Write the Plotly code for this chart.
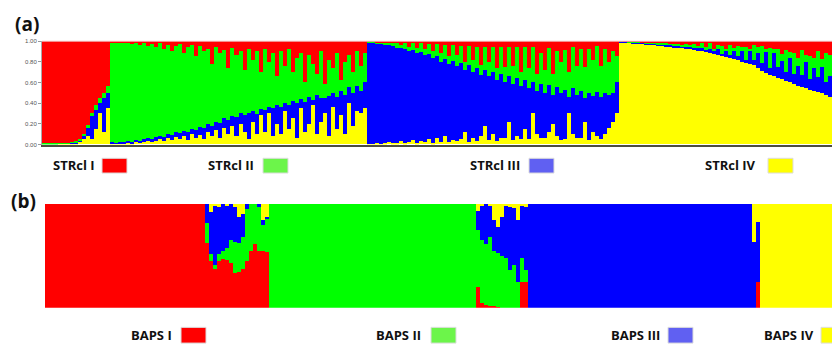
import plotly.graph_objects as go

# ---------------- Panel (a): STRUCTURE membership (197 individuals) ----------------
# Cluster I (17), Cluster II (64), Cluster III (63), Cluster IV (53)
a_yellow = [
    0, 0, 0, 0, .003, .005, .005, .01, .01, .02, .05, .08, .05, .15, .30, .12, .35,
    .01, .005, .01, .01, .01, .01, .02, .02, .02, .03,
    .02, .03, .05, .03, .06, .04, .07, .05, .08, .04,
    .10, .06, .09, .05, .12, .08, .14, .06, .16, .10,
    .18, .08, .20, .12, .05, .22, .10, .28, .12, .30,
    .08, .20, .10, .32, .15, .25, .06, .35, .12, .20,
    .38, .10, .22, .30, .08, .36, .15, .28, .10, .40,
    .18, .32, .30, .35,
    .005, .005, .01, .005, .01, .02, .01, .01, .03, .01,
    .02, .04, .01, .03, .02, .05, .01, .06, .02, .08,
    .02, .04, .03, .05, .12, .02, .06, .03, .08, .18,
    .04, .10, .03, .06, .06, .22, .04, .08, .05, .15,
    .05, .30, .10, .06, .06, .12, .20, .08, .04, .05,
    .30, .10, .06, .06, .22, .04, .12, .08, .05, .10,
    .16, .22, .30,
    .99, .99, .985, .98, .98, .975, .97, .97, .965, .96,
    .955, .95, .945, .94, .935, .93, .925, .92, .91, .905,
    .90, .89, .88, .875, .865, .855, .845, .835, .825, .815,
    .80, .79, .78, .77, .74, .71, .69, .675, .66, .645,
    .63, .615, .60, .58, .56, .55, .54, .53, .52, .51,
    .50, .48, .46,
]
a_blue = [
    0, 0, 0, 0, .002, .005, .005, .01, .01, .02, .03, .08, .22, .18, .10, .33, .15,
    .01, .005, .01, .01, .02, .01, .02, .01, .03, .03,
    .03, .04, .03, .04, .04, .05, .05, .06, .05, .08,
    .05, .08, .08, .11, .08, .10, .08, .15, .09, .13,
    .09, .18, .10, .16, .25, .10, .19, .06, .21, .06,
    .27, .18, .26, .08, .23, .17, .34, .09, .29, .26,
    .05, .38, .23, .15, .39, .14, .31, .24, .38, .15,
    .32, .24, .22, .25,
    .985, .975, .97, .965, .95, .94, .94, .92, .90, .91,
    .88, .87, .87, .86, .84, .82, .83, .79, .78, .75,
    .76, .77, .73, .74, .60, .75, .64, .71, .59, .54,
    .62, .60, .59, .62, .54, .44, .54, .56, .51, .47,
    .49, .30, .42, .52, .44, .45, .28, .47, .46, .48,
    .16, .44, .42, .46, .23, .46, .35, .43, .41, .40,
    .32, .28, .30,
    .005, .005, .005, .01, .005, .01, .01, .01, .01, .01,
    .015, .01, .02, .015, .02, .02, .02, .03, .02, .03,
    .03, .02, .04, .03, .06, .02, .06, .03, .08, .04,
    .10, .03, .12, .05, .14, .08, .20, .06, .22, .10,
    .18, .08, .24, .10, .20, .12, .26, .10, .22, .14,
    .25, .12, .20,
]
a_green = [
    .01, .01, .01, .01, .005, .005, .005, .005, .01, .01, .02, .03, .03, .05, .05, .05, .06,
    .97, .98, .96, .97, .95, .95, .94, .93, .93, .89,
    .92, .87, .90, .85, .86, .81, .83, .86, .75, .82,
    .81, .71, .78, .74, .72, .60, .72, .67, .66, .51,
    .66, .60, .60, .44, .62, .50, .61, .36, .59, .44,
    .53, .28, .54, .36, .54, .28, .44, .44, .19, .40,
    .35, .20, .45, .13, .35, .24, .42, .10, .32, .31,
    .20, .34, .24, .28,
    .01, .02, .01, .02, .03, .02, .04, .05, .03, .06,
    .04, .07, .05, .09, .06, .10, .06, .12, .08, .13,
    .07, .15, .10, .16, .08, .18, .12, .20, .10, .22,
    .14, .24, .12, .26, .15, .28, .18, .30, .14, .32,
    .20, .34, .16, .30, .22, .36, .20, .35, .30, .38,
    .24, .40, .28, .40, .30, .42, .35, .44, .30, .42,
    .32, .40, .25,
    .005, 0, .005, .005, .01, .005, .01, .005, .01, .01,
    .01, .02, .01, .015, .02, .01, .03, .01, .04, .015,
    .05, .03, .06, .02, .04, .08, .02, .10, .03, .10,
    .04, .12, .02, .14, .06, .16, .03, .20, .04, .18,
    .06, .22, .05, .20, .08, .24, .06, .22, .10, .25,
    .08, .28, .20,
]
a_red = [
    .99, .99, .99, .99, .99, .985, .985, .975, .97, .95, .90, .81, .70, .62, .55, .50, .44,
    .01, .01, .02, .01, .02, .03, .02, .04, .02, .05,
    .03, .06, .02, .08, .04, .10, .05, .03, .12, .06,
    .04, .15, .05, .10, .08, .22, .06, .12, .09, .26,
    .07, .14, .10, .28, .08, .18, .10, .30, .08, .20,
    .12, .34, .10, .24, .08, .30, .16, .12, .40, .14,
    .22, .32, .10, .42, .18, .26, .12, .38, .20, .14,
    .30, .10, .24, .12,
    0, 0, .01, .01, .01, .02, .01, .02, .04, .02,
    .06, .02, .07, .02, .08, .03, .10, .03, .12, .04,
    .15, .04, .14, .05, .20, .05, .18, .06, .23, .06,
    .20, .06, .26, .06, .25, .06, .24, .06, .30, .06,
    .26, .06, .32, .12, .28, .07, .32, .10, .20, .09,
    .30, .06, .24, .08, .25, .08, .18, .05, .24, .08,
    .20, .10, .15,
    0, .005, .005, .005, .005, .01, .01, .015, .015, .02,
    .02, .02, .025, .03, .025, .04, .025, .04, .03, .05,
    .02, .06, .02, .075, .035, .045, .075, .035, .065, .045,
    .06, .06, .08, .04, .06, .05, .08, .065, .08, .075,
    .13, .085, .11, .12, .16, .09, .14, .15, .16, .10,
    .17, .12, .14,
]

# ---------------- Panel (b): BAPS membership (197 individuals) ----------------
b_red = ([1.0] * 40
         + [.63, .45, .38, .45, .47, .46, .43, .34, .35, .38, .45, .55, .62, .55, .55, .54]
         + [0.0] * 52
         + [.20, .05, .03, .02, .02, .01, 0, 0, 0, 0, 0, .25, .25]
         + [0.0] * 56 + [0, .25] + [0.0] * 18)
b_green = ([0.0] * 40
           + [.19, .07, .03, .07, .08, .12, .22, .30, .28, .30, .50, .45, .38, .42, .25, .32]
           + [1.0] * 52
           + [.55, .60, .59, .66, .53, .52, .50, .48, .37, .41, .25, .23, .12]
           + [0.0] * 56 + [0, 0] + [0.0] * 18)
b_blue = ([0.0] * 40
          + [.18, .40, .57, .45, .45, .40, .35, .33, .25, .22, .05, 0, 0, .03, .05, .02]
          + [0.0] * 52
          + [.18, .33, .38, .30, .30, .25, .38, .50, .60, .55, .60, .50, .60]
          + [1.0] * 56 + [.64, .58] + [0.0] * 18)
b_yellow = ([0.0] * 40
            + [0, .08, .02, .03, 0, .02, 0, .03, .12, .10, 0, 0, 0, 0, .15, .12]
            + [0.0] * 52
            + [.07, .02, 0, .02, .15, .22, .12, .02, .03, .04, .15, .02, .03]
            + [0.0] * 56 + [.36, .17] + [1.0] * 18)

y_tick_vals = [0, 0.2, 0.4, 0.6, 0.8, 1.0]
y_tick_text = ["0.00", "0.20", "0.40", "0.60", "0.80", "1.00"]

legend_a = ["STRcl I", "STRcl II", "STRcl III", "STRcl IV"]
legend_b = ["BAPS I", "BAPS II", "BAPS III", "BAPS IV"]

W, H = 832, 351
def PX(x):
    return x / W
def PY(y):
    return 1 - y / H

COL = {"red": "#ff0000", "green": "#00ff00", "blue": "#0000ff", "yellow": "#ffff00"}

fig = go.Figure()
for name, vals in [("yellow", a_yellow), ("blue", a_blue), ("green", a_green), ("red", a_red)]:
    fig.add_trace(go.Bar(x=list(range(len(vals))), y=vals, xaxis="x", yaxis="y",
                         marker=dict(color=COL[name], line=dict(width=0)),
                         showlegend=False, hoverinfo="skip"))
for name, vals in [("red", b_red), ("green", b_green), ("blue", b_blue), ("yellow", b_yellow)]:
    fig.add_trace(go.Bar(x=list(range(len(vals))), y=vals, xaxis="x2", yaxis="y2",
                         marker=dict(color=COL[name], line=dict(width=0)),
                         showlegend=False, hoverinfo="skip"))

n = len(a_red)
fig.update_layout(
    width=W, height=H, margin=dict(l=0, r=0, t=0, b=0),
    paper_bgcolor="white", plot_bgcolor="white",
    barmode="stack", bargap=0,
    xaxis=dict(domain=[PX(42), 1], range=[-0.5, n - 0.5], anchor="y",
               showticklabels=False, ticks="", showgrid=False, zeroline=False,
               showline=True, linecolor="#4d4d40", linewidth=1.5),
    yaxis=dict(domain=[PY(144), PY(39)], range=[0, 1], anchor="x",
               tickvals=y_tick_vals, ticktext=y_tick_text,
               ticks="outside", ticklen=3, tickcolor="#999", tickwidth=1,
               tickfont=dict(size=6, color="#555", family="Arial, Liberation Sans"),
               showgrid=False, zeroline=False, showline=True, linecolor="#aaa", linewidth=1),
    xaxis2=dict(domain=[PX(45), 1], range=[-0.5, len(b_red) - 0.5], anchor="y2", visible=False),
    yaxis2=dict(domain=[PY(310), PY(204)], range=[0, 1], anchor="x2", visible=False),
)

# thin pink frame line at top of panel (a)
fig.add_shape(type="line", xref="paper", yref="paper", x0=PX(42), x1=1, y0=PY(39), y1=PY(39),
              line=dict(color="#f2a0a0", width=1))

font_lab = dict(family="Open Sans, Lato, sans-serif", size=19, color="#111")
fig.add_annotation(text="<b>(a)</b>", x=PX(27), y=PY(21), xref="paper", yref="paper",
                   showarrow=False, xanchor="center", yanchor="middle", font=font_lab)
fig.add_annotation(text="<b>(b)</b>", x=PX(23), y=PY(201), xref="paper", yref="paper",
                   showarrow=False, xanchor="center", yanchor="middle", font=font_lab)

leg_font = dict(family="Open Sans, Lato, sans-serif", size=13, color="#111")
rect_cols = ["#ff0000", "#6cf54a", "#6060f2", "#ffff00"]
a_text_x = [51, 206, 468, 703]
a_rect_x = [102, 263, 529, 768]
for t, tx, rx, c in zip(legend_a, a_text_x, a_rect_x, rect_cols):
    fig.add_annotation(text="<b>%s</b>" % t, x=PX(tx), y=PY(165), xref="paper", yref="paper",
                       showarrow=False, xanchor="left", yanchor="middle", font=leg_font)
    fig.add_shape(type="rect", xref="paper", yref="paper", x0=PX(rx), x1=PX(rx + 25),
                  y0=PY(173), y1=PY(158), fillcolor=c, line=dict(color="#dddddd", width=1))

b_text_x = [129, 374, 609, 762]
b_rect_x = [181, 431, 668, 821]
for t, tx, rx, c in zip(legend_b, b_text_x, b_rect_x, rect_cols):
    fig.add_annotation(text="<b>%s</b>" % t, x=PX(tx), y=PY(338), xref="paper", yref="paper",
                       showarrow=False, xanchor="left", yanchor="middle", font=leg_font)
    fig.add_shape(type="rect", xref="paper", yref="paper", x0=PX(rx), x1=PX(rx + 25),
                  y0=PY(346), y1=PY(330), fillcolor=c, line=dict(color="#dddddd", width=1))

fig.write_html("out.html", config={"displayModeBar": False},
               post_script="document.body.style.margin='0px';document.body.style.overflow='hidden';")
